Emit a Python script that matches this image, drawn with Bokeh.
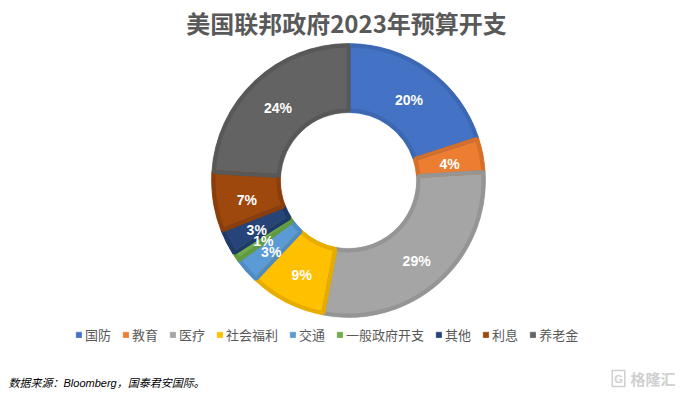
import numpy as np
from bokeh.plotting import figure
from bokeh.models import ColumnDataSource, Range1d, Legend, LegendItem, Label
from bokeh.embed import file_html
from bokeh.resources import INLINE
from bokeh.core.properties import value

categories = ["国防", "教育", "医疗", "社会福利", "交通", "一般政府开支", "其他", "利息", "养老金"]
shares = [20, 4, 29, 9, 3, 1, 3, 7, 24]
labels = ["20%", "4%", "29%", "9%", "3%", "1%", "3%", "7%", "24%"]
colors = ["#4472C4", "#ED7D31", "#A5A5A5", "#FFC000", "#5B9BD5", "#70AD47", "#264478", "#9E480E", "#636363"]
borders = ["#3D67B2", "#D66F29", "#959595", "#E6AD00", "#4E8BC2", "#629B3D", "#1F3A68", "#8A3E0B", "#585858"]

W, H = 680, 393
cx, cy = 348, 213
r_in, r_out = 68, 137
r_lab = 103

tot = float(sum(shares))
cum = np.cumsum([0] + shares) / tot
start = np.pi / 2 - 2 * np.pi * cum[:-1]
end = np.pi / 2 - 2 * np.pi * cum[1:]
mid = (start + end) / 2

src = ColumnDataSource(dict(
    cat=categories, start=start, end=end, color=colors, border=borders,
    lx=cx + r_lab * np.cos(mid), ly=cy + r_lab * np.sin(mid) - 3, lab=labels,
))

p = figure(width=W, height=H, x_range=Range1d(0, W), y_range=Range1d(0, H),
           output_backend="svg", toolbar_location=None, min_border=0,
           x_axis_location=None, y_axis_location=None)
p.grid.visible = False
p.outline_line_color = None
p.background_fill_color = "white"

fill_r = p.annular_wedge(x=cx, y=cy, inner_radius=r_in, outer_radius=r_out,
                         start_angle="start", end_angle="end", direction="clock",
                         fill_color="color", line_color="color", line_width=0.5, source=src)
p.annular_wedge(x=cx, y=cy, inner_radius=r_in + 2, outer_radius=r_out - 2,
                start_angle="start", end_angle="end", direction="clock",
                fill_color=None, line_color="border", line_width=4, source=src)

p.text(x="lx", y="ly", text="lab", source=src, text_color="white",
       text_font=value("Liberation Sans"), text_font_style="bold",
       text_font_size="14px", text_align="center", text_baseline="middle")

items = [LegendItem(label=c, renderers=[fill_r], index=i) for i, c in enumerate(categories)]

legend = Legend(items=items, orientation="horizontal", location=(75, 49),
                glyph_width=7, glyph_height=7, label_standoff=3, spacing=11,
                padding=0, margin=0, border_line_color=None, background_fill_alpha=0,
                label_text_font="Noto Sans CJK SC", label_text_font_size="13px",
                label_text_color="#595959")
p.add_layout(legend)

p.add_layout(Label(x=346, y=371, text="美国联邦政府2023年预算开支", text_align="center",
                   text_baseline="middle", text_font="Noto Sans CJK SC", text_font_style="bold",
                   text_font_size="24px", text_color="#595959"))
p.add_layout(Label(x=8, y=11, text="数据来源：Bloomberg，国泰君安国际。", text_align="left",
                   text_baseline="middle", text_font="Liberation Sans, Noto Sans CJK SC",
                   text_font_style="italic", text_font_size="11px", text_color="#000000"))
p.add_layout(Label(x=618, y=15, text="G", text_align="center",
                   text_baseline="middle", text_font="Liberation Sans", text_font_style="bold",
                   text_font_size="11px", text_color="#cfcfcf",
                   border_line_color="#cfcfcf", border_line_width=1.5, padding=2))
p.add_layout(Label(x=675, y=15, text="格隆汇", text_align="right",
                   text_baseline="middle", text_font="Noto Sans CJK SC", text_font_style="bold",
                   text_font_size="15px", text_color="#cfcfcf"))

open("out.html", "w").write(file_html(p, INLINE))
